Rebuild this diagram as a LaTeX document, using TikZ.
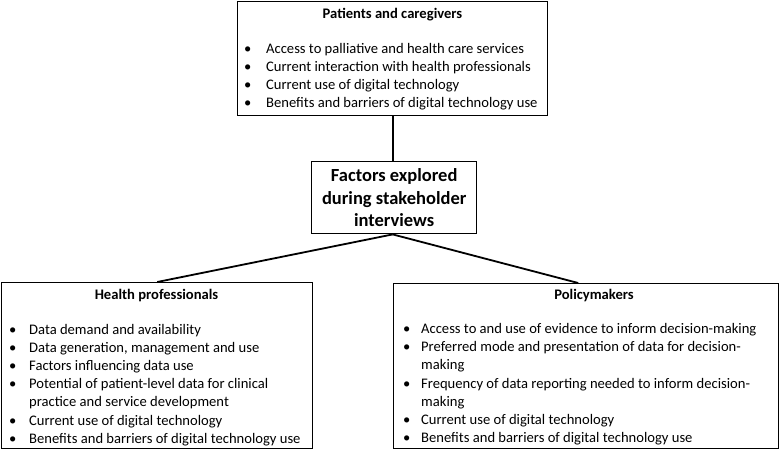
\documentclass[tikz,border=0pt]{standalone}
\usepackage{fontspec}
\setmainfont{Carlito}
\usepackage{array}
\begin{document}
\begin{tikzpicture}[x=1pt,y=-1pt,
  box/.style={draw=black, line width=1.4pt, inner sep=0pt, anchor=north west},
  ttl/.style={font=\bfseries\fontsize{14.6}{18.2}\selectfont, inner sep=0pt, anchor=base},
  lst/.style={font=\fontsize{14.6}{18.2}\selectfont, inner sep=0pt, anchor=base west},
  conn/.style={draw=black, line width=1.8pt}]
\useasboundingbox (0,0) rectangle (780,450);
% boxes
\node[box, minimum width=310pt, minimum height=114pt] (pc) at (237,1) {};
\node[box, minimum width=165pt, minimum height=72pt, align=center,
      font=\bfseries\fontsize{18.5}{22.3}\selectfont] (ctr) at (311,161)
      {Factors explored\\during stakeholder\\interviews};
\node[box, minimum width=311pt, minimum height=166pt] (hp) at (1,282) {};
\node[box, minimum width=385pt, minimum height=165pt] (pm) at (393,283) {};
% titles
\node[ttl] (pct) at (392.5,18.5) {Patients and caregivers};
\node[ttl] (hpt) at (156.5,299) {Health professionals};
\node[ttl] (pmt) at (594,299) {Policymakers};
% lists
\node[lst] (pcl) at (244,53.3) {\begin{tabular}[t]{@{}p{22pt}@{}l@{}}
\textbullet & Access to palliative and health care services\\
\textbullet & Current interaction with health professionals\\
\textbullet & Current use of digital technology\\
\textbullet & Benefits and barriers of digital technology use
\end{tabular}};
\node[lst] (hpl) at (9,334) {\begin{tabular}[t]{@{}p{20pt}@{}l@{}}
\textbullet & Data demand and availability\\
\textbullet & Data generation, management and use\\
\textbullet & Factors influencing data use\\
\textbullet & Potential of patient-level data for clinical\\
 & practice and service development\\
\textbullet & Current use of digital technology\\
\textbullet & Benefits and barriers of digital technology use
\end{tabular}};
\node[lst] (pml) at (403,333.5) {\begin{tabular}[t]{@{}p{18pt}@{}l@{}}
\textbullet & Access to and use of evidence to inform decision-making\\
\textbullet & Preferred mode and presentation of data for decision-\\
 & making\\
\textbullet & Frequency of data reporting needed to inform decision-\\
 & making\\
\textbullet & Current use of digital technology\\
\textbullet & Benefits and barriers of digital technology use
\end{tabular}};
% connectors
\coordinate (ctrtop) at (pc.south |- ctr.north);
\coordinate (ctrbot) at (pc.south |- ctr.south);
\draw[conn] (pc.south) -- (ctrtop);
\draw[conn] (ctrbot) -- (hp.north);
\draw[conn] (ctrbot) -- ([xshift=-8pt]pm.north);
\end{tikzpicture}
\end{document}
